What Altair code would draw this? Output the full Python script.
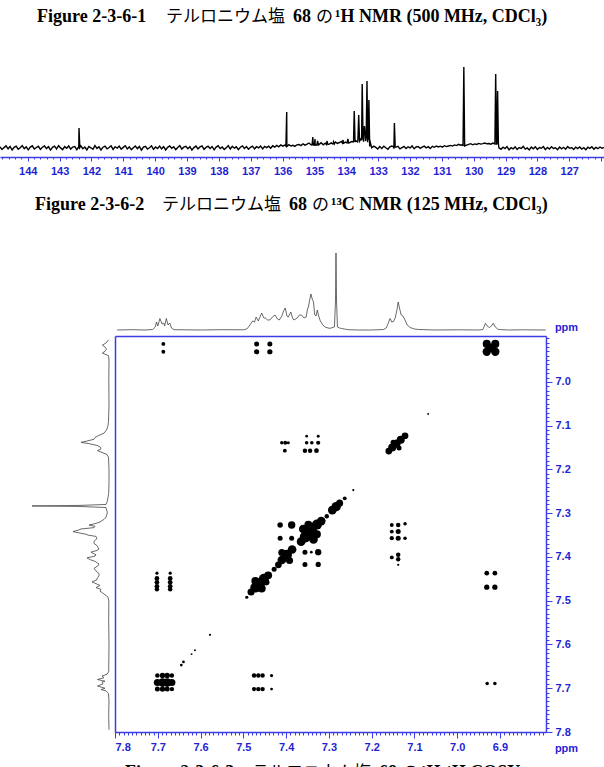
import numpy as np
import pandas as pd
import altair as alt

# ---------------- captions (split by font style) ----------------
CAP1_PARTS = ["Figure 2-3-6-1", "テルロニウム塩", "68", "の", "¹H NMR (500 MHz, CDCl₃)"]
CAP2_PARTS = ["Figure 2-3-6-2", "テルロニウム塩", "68", "の", "¹³C NMR (125 MHz, CDCl₃)"]
CAP3_PARTS = ["Figure 2-3-6-3", "テルロニウム塩", "68", "の", "¹H-¹H COSY"]

# ---------------- 13C spectrum ----------------
c13_noise = [
    1.2, -1.5, 0.4, 2.1, -0.8, 1.6, -2.0, 0.7, 1.9, -1.2, 0.3, 2.4, -0.6, 1.1, -1.8, 0.9, 2.2, -1.0, 0.5, 1.7,
    -1.4, 0.8, 2.0, -0.5, 1.3, -2.1, 0.6, 1.8, -0.9, 2.3, 0.1, -1.6, 1.4, -0.3, 2.0, -1.1, 0.9, 1.5, -1.7, 0.4,
    2.2, -0.7, 1.0, -1.9, 1.6, 0.2, -1.3, 2.4, -0.4, 1.2, -2.0, 0.8, 1.9, -0.8, 0.5, 2.1, -1.5, 1.3, -0.2, 1.8,
    -1.2, 0.6, 2.3, -0.9, 1.1, -1.7, 0.3, 2.0, -0.6, 1.5, -2.2, 0.9, 1.7, -1.0, 0.2, 2.2, -1.4, 1.0, -0.5, 1.9,
    -0.8, 1.4, -1.9, 0.7, 2.1, -0.3, 1.2, -1.6, 0.5, 2.4, -1.1, 0.8, 1.6, -0.7, 1.3, -2.0, 0.4, 1.9, -0.9, 1.1,
    2.0, -1.3, 0.6, 1.8, -0.4, 1.5, -1.8, 0.9, 2.2, -0.6, 1.0, -1.4, 0.3, 2.3, -1.0, 1.7, -0.2, 1.2, -1.6, 0.8,
    2.1, -0.5, 1.4, -1.2, 0.7, 1.9, -0.8, 1.3, 0.2, 2.0, -0.9, 1.5, 0.4, 1.8, -0.3, 2.2, 0.9,
    2.6, 1.2, 3.1, 1.8, 2.9, 1.5, 3.4, 2.0, 2.7, 1.6, 3.2,
    3.5, 2.4, 4.2, 2.9, 3.8, 5.0, 3.1, 4.4, 2.8, 4.9, 3.6, 5.3, 3.2, 4.7, 5.8, 3.9, 5.1, 4.3, 6.0, 4.6,
    5.5, 6.6, 4.8, 5.9, 7.2, 5.2, 6.4, 5.6, 7.4, 6.1, 6.8, 7.6, 6.3, 7.0, 5.8,
    1.5, 0.2, 1.8,
    0.6, -1.0, 1.4, -0.4, 1.9, 0.3, -1.2, 1.1, 2.0, -0.7, 0.9, 1.6, -0.9, 0.4, 1.7, -0.5, 1.2, 0.1, 2.1, -0.8,
    1.0, 1.5, -0.3, 0.8, 1.9, 0.2, 1.3, -0.6, 1.6, 0.7, 2.0, 1.1, 1.8, 0.9, 2.3, 1.4, 2.0, 2.6, 1.9,
    3.1, 2.4, 3.6, 2.8, 3.3, 4.0, 2.9, 3.7, 4.3, 3.2, 4.1, 3.6, 4.6, 3.9, 4.4, 5.0, 4.2,
    4.5, 3.8, 4.9, 4.1, 4.6,
    0.2, -1.3, 0.8, -0.6, 1.4, -1.8, 0.3, -0.9, 1.1, -1.5, 0.5, -0.4, 1.6, -1.1, 0.1, -1.9, 0.9, -0.7, 1.3, -1.4,
    0.4, -0.2, 1.5, -1.6, 0.6, -1.0, 1.2, -0.5, 0.2, -1.7, 1.0, -0.8, 0.7, -1.2, 1.4, -0.3, 0.5, -1.5, 0.9, -0.6,
    1.1, -1.0, 0.3, -1.8, 0.8, -0.4, 1.3, -1.3, 0.6, -0.7, 1.0, -0.2, 0.4,
]
c13_peak_ppm = [142.39, 135.87, 135.05, 134.98, 134.90, 134.60, 134.40, 134.10, 133.95,
                133.75, 133.61, 133.50, 133.43, 133.35, 133.29, 132.49, 130.31, 129.31, 129.25]
c13_peak_height = [20, 36, 11, 9, 7, 7, 6, 8, 9, 37, 33, 64, 22, 67, 48, 25, 81, 74, 57]
c13_peak_foot = [0.5, 2, 3, 3, 3, 3.5, 4, 5, 5, 6, 8, 10, 12, 10, 8, 1, 2, 4, 4]
c13_tick_values = list(range(126, 145))
c13_minor_values = [round(126 + 0.2 * i, 1) for i in range(95)]

# ---------------- 1H trace used for both projections ----------------
h1_ppm = [7.795, 7.76, 7.73, 7.712, 7.706, 7.703, 7.700, 7.695, 7.690, 7.686, 7.684, 7.680, 7.676, 7.672, 7.668,
          7.662, 7.60, 7.55, 7.50, 7.492, 7.488, 7.478, 7.474, 7.470, 7.465, 7.460, 7.457, 7.452, 7.449, 7.443,
          7.438, 7.432, 7.426, 7.420, 7.416, 7.410, 7.406, 7.402, 7.398, 7.395, 7.389, 7.385, 7.382, 7.378, 7.374,
          7.369, 7.364, 7.358, 7.353, 7.350, 7.348, 7.345, 7.342, 7.339, 7.336, 7.333, 7.330, 7.327, 7.324, 7.320,
          7.314, 7.309, 7.302, 7.297, 7.290, 7.287, 7.2845, 7.2834, 7.2822, 7.280, 7.275, 7.270, 7.262, 7.255, 7.23,
          7.20, 7.172, 7.166, 7.162, 7.157, 7.153, 7.149, 7.145, 7.141, 7.138, 7.135, 7.131, 7.127, 7.122, 7.117,
          7.110, 7.100, 7.09, 7.05, 7.00, 6.95, 6.940, 6.934, 6.930, 6.925, 6.920, 6.916, 6.911, 6.904, 6.88,
          6.85, 6.793]
h1_int = [0, 0.3, 0, 0.5, 3, 8, 4, 11.5, 6, 7, 4, 11.5, 5, 7, 2,
          0.3, 0, 0.3, 0.2, 1, 3, 9, 8, 13, 9, 14, 17, 12, 12, 10,
          10, 13, 15, 11, 10, 14, 19, 22, 14, 13, 18, 12, 10, 11, 12,
          15, 15, 12, 13, 21, 23, 30, 36, 31, 28, 15, 14, 20, 14, 9,
          5, 3, 2, 1.7, 2.7, 3, 30, 77, 30, 3, 2, 1.5, 0.8, 0.3, 0,
          0, 0.5, 2, 6, 11.5, 8, 8.5, 12, 20, 28, 22, 15, 14, 10, 5,
          2.5, 1, 0.5, 0, 0.2, 0, 0.5, 6.7, 4, 2.5, 4, 6.7, 3, 0.5, 0,
          0.2, 0]

# ---------------- COSY cross peaks (F2, F1, level) ----------------
cosy_f2 = [7.687, 7.687, 7.469, 7.469, 7.438, 7.438,
           6.931, 6.911, 6.931, 6.911, 6.921,
           7.068,
           7.352, 7.325,
           7.410, 7.402, 7.395, 7.352, 7.340, 7.325,
           7.403, 7.356, 7.344, 7.329,
           7.160, 7.152, 7.142, 7.132, 7.122, 7.150, 7.136,
           7.243,
           7.292, 7.283, 7.275, 7.263, 7.305, 7.313,
           7.414, 7.387, 7.153, 7.138, 7.122,
           7.153, 7.138,
           7.414, 7.387, 7.153, 7.138, 7.122,
           7.365, 7.355, 7.342, 7.328, 7.318, 7.360, 7.336, 7.348, 7.328,
           7.153, 7.138, 7.138, 7.138,
           7.410, 7.398, 7.386, 7.410, 7.392, 7.418, 7.428,
           7.356, 7.341, 7.325, 7.356, 7.325,
           7.482, 7.472, 7.462, 7.452, 7.442, 7.457, 7.472, 7.446, 7.492,
           7.702, 7.702, 7.702, 7.702, 7.702,
           7.671, 7.671, 7.671, 7.671, 7.671,
           6.931, 6.912, 6.931, 6.912,
           7.578, 7.613, 7.621, 7.640, 7.645,
           7.701, 7.689, 7.678, 7.667,
           7.701, 7.689, 7.678, 7.667,
           7.701, 7.689, 7.678, 7.667,
           7.475, 7.465, 7.455, 7.434,
           7.475, 7.465, 7.455, 7.434,
           6.930, 6.912]
cosy_f1 = [6.913, 6.931, 6.913, 6.931, 6.913, 6.931,
           6.913, 6.913, 6.931, 6.931, 6.922,
           7.073,
           7.124, 7.124,
           7.139, 7.139, 7.139, 7.139, 7.139, 7.139,
           7.157, 7.157, 7.157, 7.157,
           7.158, 7.150, 7.141, 7.132, 7.123, 7.138, 7.151,
           7.247,
           7.293, 7.285, 7.277, 7.266, 7.307, 7.316,
           7.327, 7.327, 7.327, 7.327, 7.324,
           7.342, 7.342,
           7.357, 7.357, 7.357, 7.357, 7.357,
           7.365, 7.354, 7.340, 7.326, 7.318, 7.336, 7.360, 7.326, 7.348,
           7.401, 7.395, 7.405, 7.418,
           7.407, 7.395, 7.383, 7.390, 7.408, 7.418, 7.428,
           7.389, 7.389, 7.389, 7.417, 7.417,
           7.480, 7.470, 7.460, 7.450, 7.442, 7.472, 7.455, 7.458, 7.492,
           7.437, 7.449, 7.458, 7.467, 7.474,
           7.437, 7.449, 7.458, 7.467, 7.474,
           7.437, 7.437, 7.469, 7.469,
           7.578, 7.613, 7.622, 7.640, 7.647,
           7.671, 7.671, 7.671, 7.671,
           7.687, 7.687, 7.687, 7.687,
           7.702, 7.702, 7.702, 7.702,
           7.671, 7.671, 7.671, 7.671,
           7.702, 7.702, 7.702, 7.702,
           7.689, 7.689]
cosy_level = [0.6, 0.6, 1.0, 1.1, 1.0, 1.1,
              2.6, 2.6, 2.8, 2.8, 3.0,
              0.15,
              0.3, 0.35,
              0.5, 0.6, 0.4, 0.5, 0.5, 0.7,
              0.6, 0.8, 0.8, 0.9,
              1.8, 2.6, 2.8, 2.6, 1.8, 1.0, 1.0,
              0.2,
              3.0, 3.5, 2.0, 0.6, 0.8, 0.6,
              1.2, 2.2, 0.6, 0.8, 0.5,
              0.6, 1.0,
              1.0, 1.0, 0.7, 1.0, 0.5,
              3.0, 5.0, 6.0, 4.0, 3.0, 3.0, 3.0, 2.5, 2.5,
              0.6, 0.8, 0.8, 0.2,
              3.0, 4.0, 3.0, 2.0, 2.0, 1.8, 1.0,
              1.0, 0.3, 1.6, 1.0, 1.1,
              2.0, 4.0, 5.0, 4.0, 2.5, 2.5, 2.5, 1.5, 0.4,
              0.4, 0.9, 0.9, 0.9, 0.8,
              0.4, 0.9, 0.9, 0.9, 0.8,
              0.9, 0.9, 1.1, 1.1,
              0.2, 0.15, 0.15, 0.3, 0.3,
              0.8, 1.2, 1.2, 0.8,
              2.0, 3.0, 3.0, 2.0,
              1.0, 1.2, 1.0, 0.8,
              0.8, 0.8, 0.8, 0.4,
              0.7, 0.8, 0.8, 0.3,
              0.5, 0.5]
f2_major = [7.8, 7.7, 7.6, 7.5, 7.4, 7.3, 7.2, 7.1, 7.0, 6.9]
f1_major = [7.0, 7.1, 7.2, 7.3, 7.4, 7.5, 7.6, 7.7, 7.8]
f2_minor = [round(6.80 + 0.01 * i, 2) for i in range(101)]
f1_minor = [round(6.90 + 0.01 * i, 2) for i in range(91)]

# ---------------- layout / style ----------------
W, H = 604, 767
BLUE_LINE = "#3c3ce4"
BLUE_TEXT = "#1f1fd4"
SANS = "Liberation Sans"
SERIF = "Liberation Serif"
CJK = "Noto Sans CJK JP"

C13_X = alt.Scale(domain=[144.87, 125.91], range=[0, 604], nice=False, zero=False)
C13_Y = alt.Scale(domain=[0, 82], range=[148, 66], nice=False, zero=False)
F2 = alt.Scale(domain=[7.8, 6.7925], range=[115, 546], nice=False, zero=False)
F1 = alt.Scale(domain=[6.895, 7.8], range=[336, 732], nice=False, zero=False)
TOPP = alt.Scale(domain=[0, 77], range=[330, 253], nice=False, zero=False)
LEFTP = alt.Scale(domain=[0, 77], range=[109, 32], nice=False, zero=False)


def axis(orient, offset, values, tick_size, labels=True, domain=True, ticks=True, **kw):
    return alt.Axis(orient=orient, offset=offset, values=values, tickSize=tick_size, ticks=ticks,
                    labels=labels, domain=domain, grid=False, tickColor=BLUE_LINE, tickWidth=1,
                    domainColor=BLUE_LINE, domainWidth=1.5, labelColor=BLUE_TEXT, labelFont=SANS,
                    labelFontWeight="bold", labelFontSize=11, **kw)


# 13C line data
grid = np.linspace(144.87, 125.91, len(c13_noise))
rows = [{"ppm": float(p), "inten": v} for p, v in zip(grid, c13_noise)]
for p, h, f in zip(c13_peak_ppm, c13_peak_height, c13_peak_foot):
    rows += [{"ppm": p + 0.025, "inten": f}, {"ppm": p, "inten": h}, {"ppm": p - 0.025, "inten": f}]
c13 = pd.DataFrame(rows).sort_values("ppm", ascending=False).reset_index(drop=True)
c13["ord"] = np.arange(len(c13))

h1 = pd.DataFrame({"ppm": h1_ppm, "inten": h1_int})
h1["ord"] = np.arange(len(h1))
cosy = pd.DataFrame({"f2": cosy_f2, "f1": cosy_f1, "lvl": cosy_level})

c13_line = alt.Chart(c13).mark_line(color="black", strokeWidth=1.4).encode(
    x=alt.X("ppm:Q", scale=C13_X, title=None,
            axis=axis("bottom", 157 - H, c13_tick_values, 4, labelPadding=4, format="d",
                      labelExpr="datum.value < 126.5 ? '' : datum.label")),
    y=alt.Y("inten:Q", scale=C13_Y, axis=None),
    order="ord:Q",
)
c13_minor = alt.Chart(c13).mark_line(opacity=0).encode(
    x=alt.X("ppm:Q", scale=C13_X, title=None,
            axis=axis("bottom", 157 - H, c13_minor_values, 2, labels=False, domain=False)),
    y=alt.Y("inten:Q", scale=C13_Y, axis=None),
)

size_scale = alt.Scale(domain=[0, 10], range=[0, 250])
cosy_dots = alt.Chart(cosy).mark_point(filled=True, color="black", opacity=1).encode(
    x=alt.X("f2:Q", scale=F2, title=None,
            axis=axis("bottom", 732 - H, f2_major, 6, labelPadding=3, format=".1f",
                      title="ppm", titleX=566, titleY=16, titleColor=BLUE_TEXT, titleFont=SANS,
                      titleFontWeight="bold", titleFontSize=11, titleAlign="center",
                      titleBaseline="middle")),
    y=alt.Y("f1:Q", scale=F1, title=None,
            axis=axis("right", 546 - W, f1_major, 6, labelPadding=3, format=".1f",
                      title="ppm", titleX=20, titleY=327, titleAngle=0, titleColor=BLUE_TEXT,
                      titleFont=SANS, titleFontWeight="bold", titleFontSize=11, titleAlign="center",
                      titleBaseline="middle")),
    size=alt.Size("lvl:Q", scale=size_scale, legend=None),
)
cosy_rings = alt.Chart(cosy).transform_filter(alt.datum.lvl >= 1.5).mark_point(
    filled=False, color="white", strokeWidth=0.8, opacity=1).encode(
    x=alt.X("f2:Q", scale=F2, title=None,
            axis=axis("bottom", 732 - H, f2_minor, 3, labels=False, domain=False)),
    y=alt.Y("f1:Q", scale=F1, title=None,
            axis=axis("right", 546 - W, f1_minor, 3, labels=False, domain=False)),
    size=alt.Size("lvl:Q", scale=alt.Scale(domain=[0, 10], range=[0, 80]), legend=None),
)
frame = alt.Chart(cosy).mark_point(opacity=0).encode(
    x=alt.X("f2:Q", scale=F2, title=None,
            axis=axis("top", -336, f2_major, 0, labels=False, ticks=False)),
    y=alt.Y("f1:Q", scale=F1, title=None,
            axis=axis("left", -115, f1_major, 0, labels=False, ticks=False)),
)

top_proj = alt.Chart(h1).mark_line(color="#444444", strokeWidth=0.8).encode(
    x=alt.X("ppm:Q", scale=F2, axis=None),
    y=alt.Y("inten:Q", scale=TOPP, axis=None),
    order="ord:Q",
)
left_proj = alt.Chart(h1).transform_filter(alt.datum.ppm >= 6.9).mark_line(
    color="#444444", strokeWidth=0.8).encode(
    y=alt.Y("ppm:Q", scale=F1, axis=None),
    x=alt.X("inten:Q", scale=LEFTP, axis=None),
    order="ord:Q",
)


def text_part(text, x, y, font, size, weight):
    return alt.Chart(pd.DataFrame({"t": [text]})).mark_text(
        align="left", baseline="middle", font=font, fontWeight=weight, fontSize=size, color="black"
    ).encode(text="t:N", x=alt.value(x), y=alt.value(y))


def caption(parts, xs, y):
    fonts = [SERIF, CJK, SERIF, CJK, SERIF]
    sizes = [18, 17, 18, 17, 18]
    weights = ["bold", "normal", "bold", "normal", "bold"]
    return [text_part(t, x, y, f, s, w) for t, x, f, s, w in zip(parts, xs, fonts, sizes, weights)]


layers = [c13_minor, c13_line, frame, cosy_rings, cosy_dots, top_proj, left_proj]
layers += caption(CAP1_PARTS, [37, 166, 293, 316, 335], 17)
layers += caption(CAP2_PARTS, [35, 162, 289, 312, 331], 205)
layers += caption(CAP3_PARTS, [125, 252, 379, 402, 421], 773)

chart = alt.layer(*layers).resolve_scale(
    x="independent", y="independent", size="independent"
).resolve_axis(
    x="independent", y="independent"
).properties(
    width=W, height=H, padding=0, autosize="none", background="white"
).configure_view(stroke=None)

chart.save("out.html", embed_options={"renderer": "svg", "actions": False})
